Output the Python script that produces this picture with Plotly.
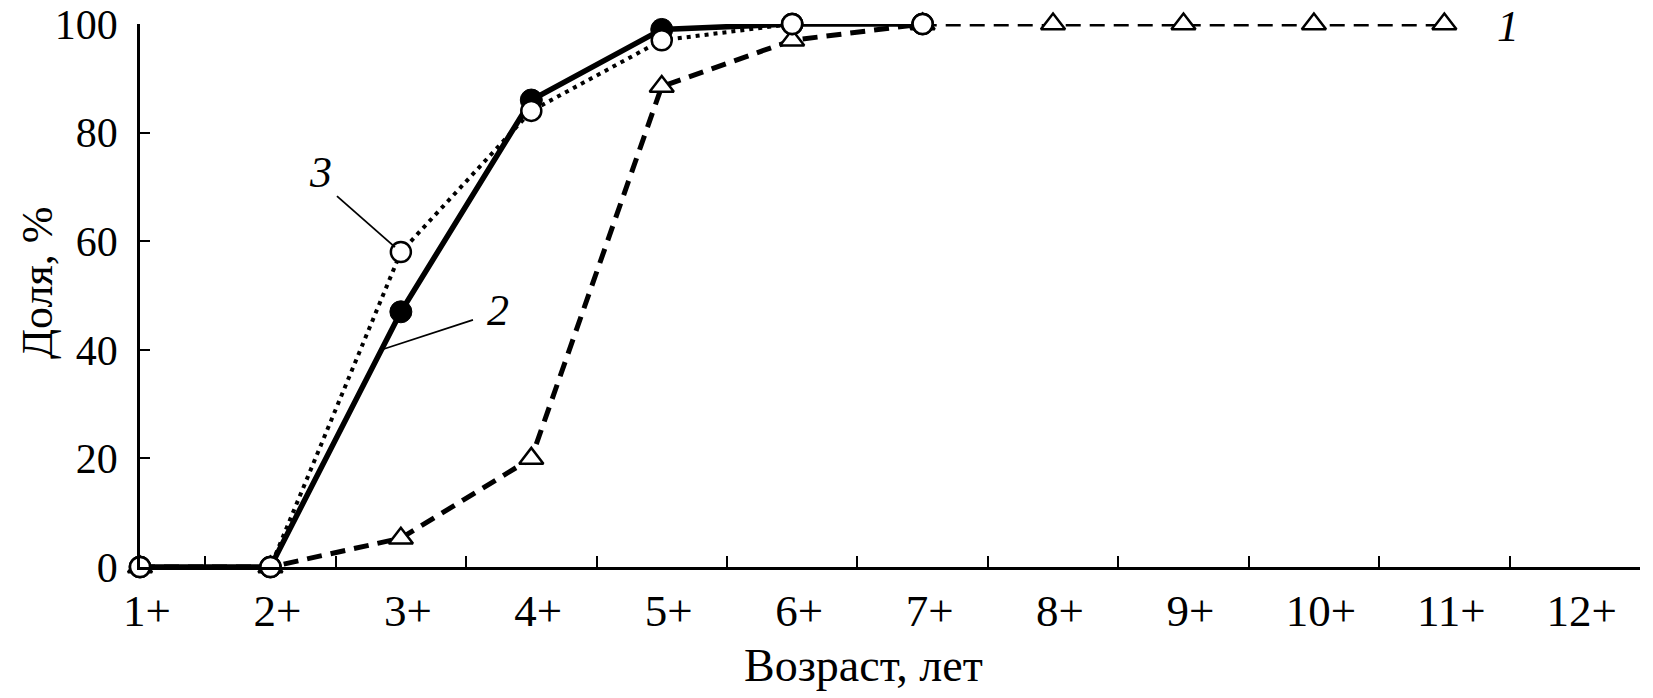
import plotly.graph_objects as go

# ---- data ----
categories = ["1+", "2+", "3+", "4+", "5+", "6+", "7+", "8+", "9+", "10+", "11+", "12+"]
x1 = ["1+", "2+", "3+", "4+", "5+", "6+", "7+", "8+", "9+", "10+", "11+"]
series1 = [0, 0, 5.3, 20, 88.5, 97, 100, 100, 100, 100, 100]
x23 = ["1+", "2+", "3+", "4+", "5+", "6+", "7+"]
series2 = [0, 0, 47, 86, 99, 100, 100]
series3 = [0, 0, 58, 84, 97, 100, 100]
y_ticks = [0, 20, 40, 60, 80, 100]

FONT = "Liberation Serif"

fig = go.Figure()

# helper trace so that every category (incl. 12+) exists on the axis
fig.add_trace(go.Scatter(x=categories, y=[None] * len(categories), mode="markers",
                         showlegend=False, hoverinfo="skip"))

fig.add_trace(go.Scatter(
    x=x1, y=series1, mode="lines+markers", name="1", cliponaxis=False,
    line=dict(color="black", width=5, dash="15px,9px"),
    marker=dict(symbol="triangle-up", size=21, color="white",
                line=dict(color="black", width=2.5)),
))
fig.add_trace(go.Scatter(
    x=x23, y=series2, mode="lines+markers", name="2", cliponaxis=False,
    line=dict(color="black", width=5.5),
    marker=dict(symbol="circle", size=22, color="black",
                line=dict(color="black", width=1)),
))
fig.add_trace(go.Scatter(
    x=x23, y=series3, mode="lines+markers", name="3", cliponaxis=False,
    line=dict(color="black", width=4, dash="4px,5px"),
    marker=dict(symbol="circle", size=20, color="white",
                line=dict(color="black", width=2.5)),
))

# series labels (italic numbers) with leader lines
labels = [
    dict(text="1", x=10.49, y=99.5),
    dict(text="3", x=1.38, y=72.7),
    dict(text="2", x=2.745, y=47.3),
]
for lb in labels:
    fig.add_annotation(x=lb["x"], y=lb["y"], xref="x", yref="y", text=lb["text"],
                       showarrow=False, xanchor="center", yanchor="middle",
                       font=dict(family=FONT, size=44, color="black", style="italic"))

leaders = [
    (1.51, 68.3, 1.955, 58.9),
    (2.553, 45.5, 1.863, 40.1),
]
for (a, b, c, d) in leaders:
    fig.add_shape(type="line", xref="x", yref="y", x0=a, y0=b, x1=c, y1=d,
                  line=dict(color="black", width=1.8))

# axis titles
fig.add_annotation(text="Возраст, лет", xref="paper", yref="paper", x=0.482, y=-0.1805,
                   xanchor="center", yanchor="middle", showarrow=False,
                   font=dict(family=FONT, size=46, color="black"))
fig.add_annotation(text="Доля, %", xref="paper", yref="paper", x=-0.0687, y=0.523,
                   xanchor="center", yanchor="middle", showarrow=False, textangle=-90,
                   font=dict(family=FONT, size=44, color="black"))

# the page body adds an 8px offset, so the figure is slightly smaller
fig.update_layout(
    width=1645, height=690,
    margin=dict(l=132, r=13, t=16, b=131),
    paper_bgcolor="white", plot_bgcolor="white",
    showlegend=False,
    font=dict(family=FONT, size=46, color="black"),
    xaxis=dict(
        type="category", categoryorder="array", categoryarray=categories,
        range=[0, 11.5], tickson="boundaries", automargin=False,
        ticks="inside", ticklen=11, tickwidth=2, tickcolor="black",
        showline=True, linecolor="black", linewidth=2.5,
        showgrid=False, zeroline=False,
        tickfont=dict(family=FONT, size=45),
        ticklabelstandoff=2, ticklabelshift=7, ticklabeloverflow="allow",
    ),
    yaxis=dict(
        range=[0, 100], tickmode="array", tickvals=y_ticks, automargin=False,
        ticks="inside", ticklen=10, tickwidth=2, tickcolor="black",
        showline=True, linecolor="black", linewidth=2.5,
        showgrid=False, zeroline=False,
        tickfont=dict(family=FONT, size=42),
        ticklabelstandoff=11, ticklabeloverflow="allow",
    ),
)

fig.write_html("out.html")
